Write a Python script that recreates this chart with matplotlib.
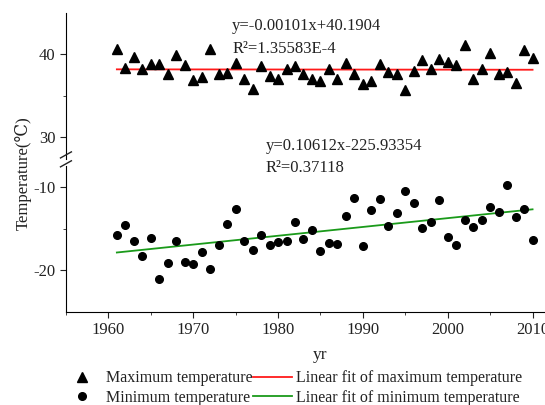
import numpy as np
import matplotlib
matplotlib.use('Agg')
import matplotlib.pyplot as plt
from matplotlib.ticker import FixedLocator, MultipleLocator

plt.rcParams['font.family'] = ['Liberation Serif', 'DejaVu Serif', 'DejaVu Sans']
plt.rcParams['font.size'] = 12
plt.rcParams['axes.unicode_minus'] = False

# data
years = list(range(1961, 2011))
t_max = [40.7, 38.4, 39.7, 38.3, 38.9, 38.9, 37.6, 39.9, 38.7, 36.9,
         37.3, 40.7, 37.7, 37.8, 39.0, 37.1, 35.8, 38.6, 37.4, 37.1,
         38.2, 38.6, 37.6, 37.0, 36.8, 38.2, 37.1, 39.0, 37.6, 36.4,
         36.8, 38.8, 37.9, 37.6, 35.7, 38.0, 39.3, 38.2, 39.5, 39.1,
         38.7, 41.1, 37.1, 38.2, 40.2, 37.7, 37.9, 36.6, 40.5, 39.6]
t_min = [-15.76, -14.53, -16.41, -18.24, -16.12, -20.98, -19.10, -16.45, -18.94, -19.18,
         -17.76, -19.76, -16.98, -14.41, -12.57, -16.49, -17.55, -15.67, -16.90, -16.53,
         -16.41, -14.16, -16.20, -15.18, -17.67, -16.65, -16.82, -13.43, -11.31, -17.06,
         -12.73, -11.35, -14.61, -13.10, -10.45, -11.88, -14.90, -14.12, -11.51, -15.96,
         -16.98, -13.88, -14.73, -13.88, -12.33, -12.90, -9.71, -13.51, -12.65, -16.33]
fit_max = (-0.00101, 40.1904)
fit_min = (0.10612, -225.93354)
fit_years = [1961, 2010]

text_color = '#222222'


def style_axis(ax):
	ax.spines['top'].set_visible(False)
	ax.spines['right'].set_visible(False)
	ax.tick_params(which='both', direction='out', colors=text_color, labelsize=12)
	ax.tick_params(which='major', length=4)
	ax.tick_params(which='minor', length=2.5)
	ax.set_xlim(1955, 2015)


fig = plt.figure(figsize=(5.45, 4.05), dpi=100)
ax_top = fig.add_axes([0.121, 0.599, 0.934, 0.369])
ax_bot = fig.add_axes([0.121, 0.2296, 0.934, 0.369])

for ax in (ax_top, ax_bot):
	style_axis(ax)

# upper panel: maximum temperature
yr = np.array(fit_years)
l1, = ax_top.plot(yr, fit_max[0] * yr + fit_max[1], color='#ff1a1a', lw=1.3,
	label='Linear fit of maximum temperature')
s1, = ax_top.plot(years, t_max, '^', color='black', ms=6.5, label='Maximum temperature')
ax_top.set_ylim(27, 45)
ax_top.yaxis.set_major_locator(FixedLocator([30, 40]))
ax_top.yaxis.set_minor_locator(FixedLocator([35]))
ax_top.spines['bottom'].set_visible(False)
ax_top.tick_params(axis='x', which='both', bottom=False, labelbottom=False)
ax_top.text(1974.6, 43.4, 'y=-0.00101x+40.1904', va='center', color=text_color)
ax_top.text(1974.6, 40.7, 'R\u00b2=1.35583E-4', va='center', color=text_color)

# lower panel: minimum temperature
l2, = ax_bot.plot(yr, fit_min[0] * yr + fit_min[1], color='#1a9a1a', lw=1.3,
	label='Linear fit of minimum temperature')
s2, = ax_bot.plot(years, t_min, 'o', color='black', ms=5.5, label='Minimum temperature')
ax_bot.set_ylim(-25, -7)
ax_bot.yaxis.set_major_locator(FixedLocator([-20, -10]))
ax_bot.yaxis.set_minor_locator(FixedLocator([-15]))
ax_bot.xaxis.set_major_locator(MultipleLocator(10))
ax_bot.xaxis.set_minor_locator(MultipleLocator(5))
ax_bot.text(1978.5, -5.0, 'y=0.10612x-225.93354', va='center', color=text_color)
ax_bot.text(1978.5, -7.7, 'R\u00b2=0.37118', va='center', color=text_color)
ax_bot.set_xlabel('yr', fontsize=12.5, labelpad=6, color=text_color)

# axis break mark on the left spine
ax_top.spines['left'].set_bounds(27.4, 45)
ax_bot.spines['left'].set_bounds(-25, -7.4)
for dy in (0.0, 0.022):
	fig.add_artist(plt.Line2D([0.111, 0.131], [0.588 + dy, 0.603 + dy],
		color=text_color, lw=1.0, transform=fig.transFigure))

fig.text(0.042, 0.573, 'Temperature(\u2103)', rotation=90, ha='center', va='center',
	fontsize=12, color=text_color)

fig.legend([s1, s2, l1, l2],
	['Maximum temperature', 'Minimum temperature',
	 'Linear fit of maximum temperature', 'Linear fit of minimum temperature'],
	ncol=2, loc='center', bbox_to_anchor=(0.537, 0.042), frameon=False,
	handlelength=2.4, handletextpad=0.3, columnspacing=0.05, labelspacing=0.2,
	borderpad=0.2, fontsize=11.5, labelcolor=text_color)

fig.savefig('out.png', dpi=100)
